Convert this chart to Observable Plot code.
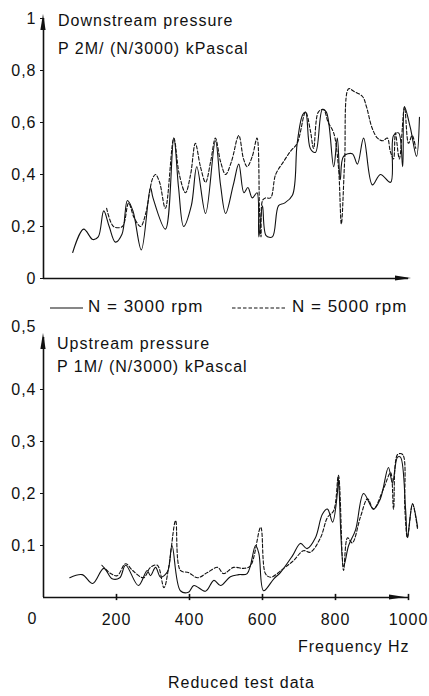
<!DOCTYPE html>
<html>
<head>
<meta charset="utf-8">
<script src="https://cdn.jsdelivr.net/npm/d3@7"></script>
<script src="https://cdn.jsdelivr.net/npm/@observablehq/plot@0.6"></script>
<style>
  body { margin: 0; background: #fff; }
  #wrap { position: relative; width: 429px; height: 696px; overflow: hidden; font-family: "Liberation Sans", Arial, sans-serif; color: #111; }
  .t { position: absolute; font-size: 16px; line-height: 16px; letter-spacing: 1px; white-space: nowrap; }
  #top, #bot { position: absolute; left: 0; }
  #top { top: 0; }
  #bot { top: 320px; }
</style>
</head>
<body>
<div id="wrap">
  <div id="top"></div>
  <div id="bot"></div>
  <div class="t" style="left:58px;top:13px">Downstream pressure</div>
  <div class="t" style="left:58px;top:41px">P 2M/ (N/3000) kPascal</div>
  <div class="t" style="left:57px;top:336px">Upstream pressure</div>
  <div class="t" style="left:57px;top:359px">P 1M/ (N/3000) kPascal</div>
  <div class="t" style="left:50px;top:299px;font-size:17px">
    <svg width="34" height="10" style="vertical-align:middle;margin-right:4px"><line x1="0" y1="5" x2="33" y2="5" stroke="#111" stroke-width="1.2"/></svg>N = 3000 rpm</div>
  <div class="t" style="left:232px;top:299px;font-size:17px">
    <svg width="56" height="10" style="vertical-align:middle;margin-right:4px"><line x1="0" y1="5" x2="55" y2="5" stroke="#111" stroke-width="1.2" stroke-dasharray="3.5,2"/></svg>N = 5000 rpm</div>
  <div class="t" style="left:298px;top:639px">Frequency Hz</div>
  <div class="t" style="left:168px;top:675px">Reduced test data</div>
</div>
<script>
// ---------- data ----------
// Downstream pressure, N = 3000 rpm
const downHz3000 = [80,110,135,150,165,180,197,215,230,245,268,293,300,334,357,370,384,405,420,444,471,485,499,520,535,549,560,572,585,590,600,610,627,644,660,682,695,710,718,731,745,764,775,795,805,813,822,846,860,877,901,923,951,959,973,984,989,1005,1022,1030];
const down3000   = [0.10,0.19,0.15,0.16,0.26,0.20,0.14,0.17,0.30,0.26,0.11,0.35,0.31,0.19,0.54,0.35,0.20,0.28,0.43,0.25,0.53,0.36,0.25,0.36,0.44,0.33,0.35,0.31,0.33,0.16,0.28,0.165,0.16,0.28,0.29,0.32,0.52,0.63,0.64,0.50,0.485,0.65,0.64,0.43,0.54,0.38,0.47,0.48,0.44,0.54,0.36,0.40,0.37,0.55,0.56,0.43,0.66,0.58,0.47,0.62];
// Downstream pressure, N = 5000 rpm
const downHz5000 = [173,192,216,233,248,266,280,299,307,318,334,357,372,389,403,416,430,444,458,471,485,499,515,535,548,558,572,585,592,596,600,608,622,636,658,677,695,718,731,740,753,767,780,795,808,816,825,836,850,874,885,900,915,930,942,950,959,964,975,989,1000,1010,1020];
const down5000   = [0.27,0.20,0.20,0.29,0.235,0.20,0.25,0.385,0.40,0.37,0.27,0.54,0.40,0.33,0.40,0.52,0.43,0.37,0.45,0.54,0.45,0.40,0.45,0.55,0.46,0.43,0.47,0.54,0.25,0.16,0.30,0.31,0.31,0.40,0.45,0.49,0.52,0.64,0.57,0.50,0.64,0.65,0.60,0.56,0.43,0.21,0.45,0.73,0.72,0.70,0.66,0.58,0.54,0.53,0.54,0.49,0.46,0.56,0.46,0.66,0.52,0.55,0.50];
// Upstream pressure, N = 3000 rpm
const upHz3000 = [72,106,135,165,188,209,225,260,284,293,307,321,340,352,375,397,412,444,467,485,512,535,558,581,590,603,631,649,682,704,722,745,764,778,792,805,808,822,836,855,877,904,923,945,956,970,978,992,997,1011,1025];
const up3000   = [0.038,0.044,0.027,0.056,0.036,0.038,0.062,0.023,0.052,0.042,0.058,0.039,0.05,0.10,0.013,0.010,0.023,0.012,0.033,0.023,0.040,0.044,0.046,0.10,0.085,0.013,0.036,0.048,0.080,0.104,0.094,0.115,0.160,0.170,0.145,0.20,0.23,0.06,0.10,0.13,0.20,0.17,0.19,0.25,0.22,0.27,0.27,0.17,0.115,0.18,0.135];
// Upstream pressure, N = 5000 rpm
const upHz5000 = [160,184,202,225,244,274,293,312,330,343,362,375,397,422,449,477,493,521,548,567,595,608,622,658,685,712,731,759,778,795,808,822,833,846,868,888,904,932,951,959,970,984,990,997,1011,1025];
const up5000   = [0.062,0.046,0.042,0.065,0.052,0.038,0.058,0.062,0.019,0.058,0.148,0.052,0.048,0.038,0.048,0.058,0.046,0.058,0.056,0.061,0.135,0.046,0.039,0.056,0.071,0.090,0.087,0.115,0.154,0.167,0.235,0.052,0.115,0.105,0.154,0.19,0.17,0.21,0.24,0.17,0.275,0.275,0.17,0.115,0.18,0.13];

const topYTicks = [0, 0.2, 0.4, 0.6, 0.8, 1];
const botYTicks = [0.1, 0.2, 0.3, 0.4];
const botYTopLabel = [0.5];
const botXTicks = [200, 400, 600, 800, 1000];

// ---------- helpers ----------
const rows = (hz, v) => hz.map((h, i) => ({hz: h, v: v[i]}));
const comma = d => String(d).replace(".", ",");
const ink = "#111";
const svgStyle = {fontFamily: "'Liberation Sans', Arial, sans-serif", fontSize: "16px", letterSpacing: "1px", overflow: "visible", background: "transparent", color: ink};
const curve = "catmull-rom";

// ---------- top chart ----------
const topPlot = Plot.plot({
  width: 429, height: 290,
  marginTop: 18, marginBottom: 12, marginLeft: 43, marginRight: 21,
  style: svgStyle,
  x: {domain: [0, 1000], axis: null},
  y: {domain: [0, 1], ticks: topYTicks, tickFormat: comma, tickSize: 3, tickPadding: 4, label: null},
  marks: [
    Plot.ruleX([0], {stroke: ink, strokeWidth: 1.6}),
    Plot.ruleY([0], {stroke: ink, strokeWidth: 1.6}),
    Plot.line(rows(downHz3000, down3000), {x: "hz", y: "v", stroke: ink, strokeWidth: 1.1, curve}),
    Plot.line(rows(downHz5000, down5000), {x: "hz", y: "v", stroke: ink, strokeWidth: 1.1, strokeDasharray: "3.5,2", curve})
  ]
});
document.getElementById("top").appendChild(topPlot);

// ---------- bottom chart ----------
const botPlot = Plot.plot({
  width: 429, height: 307,
  marginTop: 17, marginBottom: 30, marginLeft: 43, marginRight: 21,
  style: svgStyle,
  x: {domain: [0, 1000], ticks: botXTicks, tickFormat: d => String(d), tickSize: 0, tickPadding: 16, label: null},
  y: {domain: [0, 0.5], ticks: botYTicks, tickFormat: comma, tickSize: 3, tickPadding: 4, label: null},
  marks: [
    Plot.ruleX([0], {stroke: ink, strokeWidth: 1.6}),
    Plot.ruleY([0], {stroke: ink, strokeWidth: 1.6}),
    Plot.ruleX(botXTicks, {y1: -0.006, y2: 0.006, stroke: ink, strokeWidth: 1.6}),
    Plot.text([0], {x: d => d, y: 0, text: d => String(d), dx: -11, dy: 21, fontSize: 16}),
    Plot.text(botYTopLabel, {x: 0, y: d => d, text: comma, textAnchor: "end", dx: -7, dy: -11, fontSize: 16}),
    Plot.line(rows(upHz3000, up3000), {x: "hz", y: "v", stroke: ink, strokeWidth: 1.1, curve}),
    Plot.line(rows(upHz5000, up5000), {x: "hz", y: "v", stroke: ink, strokeWidth: 1.1, strokeDasharray: "3.5,2", curve})
  ]
});
document.getElementById("bot").appendChild(botPlot);

// ---------- arrowheads on the axes (positions from the plots' scales) ----------
function arrows(plot, yTop, xEndOffset) {
  const X = plot.scale("x"), Y = plot.scale("y");
  const x0 = X.apply(0), y0 = Y.apply(0);
  const yt = Y.apply(yTop) - 4;
  const xt = X.apply(1000) + xEndOffset;
  const g = d3.select(plot).append("g").attr("fill", ink);
  g.append("path").attr("d", `M${x0},${yt}L${x0 - 2.6},${yt + 16}L${x0 + 2.6},${yt + 16}Z`);
  g.append("path").attr("d", `M${xt},${y0}L${xt - 16},${y0 - 2.6}L${xt - 16},${y0 + 2.6}Z`);
}
arrows(topPlot, 1, 3);
arrows(botPlot, 0.5, -3);
</script>
</body>
</html>
